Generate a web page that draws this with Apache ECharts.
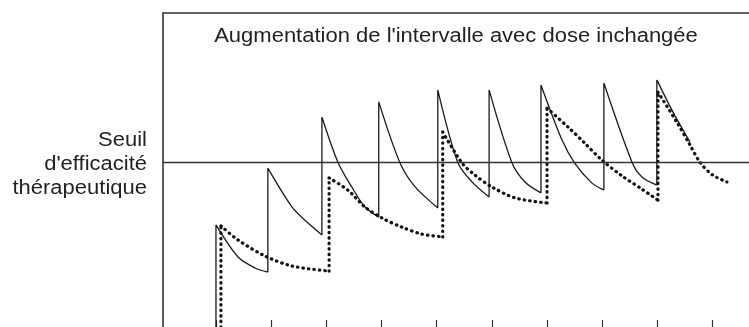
<!DOCTYPE html>
<html>
<head>
<meta charset="utf-8">
<title>Augmentation de l'intervalle avec dose inchangée</title>
<script src="https://cdn.jsdelivr.net/npm/echarts@6/dist/echarts.min.js"></script>
<style>
  html, body { margin: 0; padding: 0; background: #fff; }
  #chart { width: 749px; height: 327px; }
</style>
</head>
<body>
<div id="chart"></div>
<script>
// temps (intervalles) sur x, concentration (unités arbitraires) sur y
const xTicks = [0, 1, 2, 3, 4, 5, 6, 7, 8, 9];
const threshold = 52.5;
const titleText = "Augmentation de l'intervalle avec dose inchangée";
const thresholdLabel = "Seuil\nd'efficacité\nthérapeutique";

// schéma habituel : une prise par intervalle (trait plein)
// chaque cycle : pic au moment de la prise, puis décroissance jusqu'à la prise suivante
const solidCycles = [
  [[0.00, 32.5], [0.40, 22.3], [0.71, 18.8], [0.94, 17.5]],
  [[0.94, 50.6], [1.38, 38.2], [1.67, 33.1], [1.92, 29.3]],
  [[1.92, 66.9], [2.21, 52.5], [2.46, 44.6], [2.70, 38.2], [2.95, 35.0]],
  [[2.95, 71.7], [3.33, 52.5], [3.61, 44.6], [4.02, 37.9]],
  [[4.02, 75.5], [4.38, 52.5], [4.64, 46.2], [4.95, 41.4]],
  [[4.95, 75.5], [5.36, 52.5], [5.60, 46.2], [5.89, 42.7]],
  [[5.89, 77.1], [6.27, 59.6], [6.50, 52.2], [6.81, 45.9], [7.03, 43.6]],
  [[7.03, 77.7], [7.54, 52.5], [7.72, 47.8], [7.99, 45.2]],
  [[7.99, 78.7], [8.28, 68.5], [8.59, 58.9]]
];

// intervalle doublé, même dose (pointillés)
const dottedCycles = [
  [[0.09, 32.2], [0.40, 27.7], [0.89, 22.6], [1.38, 19.4], [2.05, 17.8]],
  [[2.05, 47.5], [2.39, 43.6], [2.70, 38.2], [3.01, 34.7], [3.37, 31.8], [3.73, 29.6], [4.11, 28.7]],
  [[4.11, 62.1], [4.46, 52.2], [4.69, 48.4], [5.00, 44.6], [5.42, 41.1], [6.00, 39.5]],
  [[6.00, 69.7], [6.38, 63.7], [6.68, 58.6], [6.99, 53.2], [7.36, 48.1], [7.72, 43.9], [8.01, 40.4]],
  [[8.01, 74.8], [8.35, 65.3], [8.59, 58.0], [8.77, 52.5], [9.00, 48.4], [9.26, 46.2]]
];

// montée verticale à chaque prise, puis courbe de décroissance (segments séparés)
function buildPath(cycles) {
  const data = [];
  let level = 0;
  cycles.forEach(function (cycle) {
    const t = cycle[0][0];
    data.push([t, level], cycle[0], [t, '-']);
    cycle.forEach(function (p) { data.push(p); });
    data.push([cycle[cycle.length - 1][0], '-']);
    level = cycle[cycle.length - 1][1];
  });
  return data;
}

const myChart = echarts.init(document.getElementById('chart'));
const font = "'Liberation Sans', Arial, Helvetica, sans-serif";

const option = {
  animation: false,
  backgroundColor: '#fff',
  grid: { left: 163, right: 0, top: 13, bottom: 0 },
  xAxis: [
    {
      type: 'value',
      min: -0.96,
      max: 9.66,
      axisLine: { show: false, onZero: false },
      axisTick: {
        show: true,
        inside: true,
        length: 7,
        customValues: xTicks,
        lineStyle: { color: '#333', width: 1.2 }
      },
      axisLabel: { show: false },
      splitLine: { show: false }
    },
    {
      type: 'value',
      position: 'top',
      min: -0.96,
      max: 9.66,
      axisLine: { show: true, onZero: false, lineStyle: { color: '#333', width: 1.6 } },
      axisTick: { show: false },
      axisLabel: { show: false },
      splitLine: { show: false }
    }
  ],
  yAxis: {
    type: 'value',
    min: 0,
    max: 100,
    axisLine: { show: true, onZero: false, lineStyle: { color: '#333', width: 1.6 } },
    axisTick: { show: false },
    axisLabel: { show: false },
    splitLine: { show: false }
  },
  graphic: [
    {
      type: 'text',
      x: 456,
      y: 36,
      scaleX: 1.1,
      style: {
        text: titleText,
        fill: '#222',
        font: '20px ' + font,
        align: 'center',
        verticalAlign: 'middle'
      }
    },
    {
      type: 'text',
      x: 147,
      y: 164,
      scaleX: 1.1,
      style: {
        text: thresholdLabel,
        fill: '#222',
        font: '20px ' + font,
        lineHeight: 24,
        align: 'right',
        verticalAlign: 'middle'
      }
    }
  ],
  series: [
    {
      name: 'intervalle habituel',
      type: 'line',
      data: buildPath(solidCycles),
      showSymbol: false,
      smooth: 0.3,
      connectNulls: false,
      lineStyle: { color: '#1a1a1a', width: 1.3 },
      markLine: {
        silent: true,
        symbol: ['none', 'none'],
        label: { show: false },
        lineStyle: { color: '#333', width: 1.3, type: 'solid' },
        data: [{ yAxis: threshold }]
      }
    },
    {
      name: 'intervalle augmenté',
      type: 'line',
      data: buildPath(dottedCycles),
      showSymbol: false,
      smooth: 0.3,
      connectNulls: false,
      lineStyle: { color: '#111', width: 3.2, type: [0.5, 5], cap: 'round' }
    }
  ]
};
myChart.setOption(option);
</script>
</body>
</html>
